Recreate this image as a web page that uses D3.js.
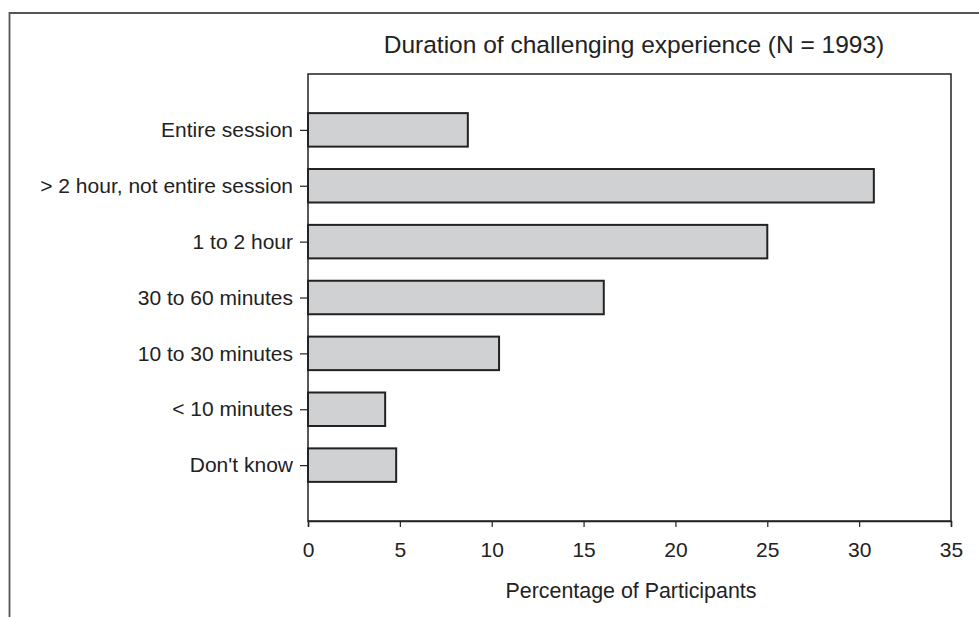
<!DOCTYPE html>
<html><head><meta charset="utf-8">
<script src="https://cdn.jsdelivr.net/npm/d3@7"></script>
<style>
html,body{margin:0;padding:0;background:#fff;}
svg{display:block;font-family:"Liberation Sans",Arial,sans-serif;}
</style></head>
<body>
<svg id="c" width="979" height="617"></svg>
<script>
const categories = ["Entire session", "> 2 hour, not entire session", "1 to 2 hour", "30 to 60 minutes", "10 to 30 minutes", "< 10 minutes", "Don't know"];
const values = [8.7, 30.8, 25.0, 16.1, 10.4, 4.2, 4.8];
const xTicks = [0, 5, 10, 15, 20, 25, 30, 35];
const title = "Duration of challenging experience (N = 1993)";
const xLabel = "Percentage of Participants";

const svg = d3.select("#c");
const m = {left: 308, top: 74, right: 951, bottom: 521};
const x = d3.scaleLinear().domain([0, 35]).range([m.left, m.right]);
const y = d3.scaleLinear().domain([0, categories.length + 1]).range([m.top, m.bottom]);
const barH = 33.5;

// outer frame (left + top)
svg.append("path").attr("d", `M9.5,617 V13 H979`).attr("fill", "none")
  .attr("stroke", "#555").attr("stroke-width", 1.8);

// plot box
svg.append("rect").attr("x", m.left).attr("y", m.top)
  .attr("width", m.right - m.left).attr("height", m.bottom - m.top)
  .attr("fill", "none").attr("stroke", "#222").attr("stroke-width", 1.5);

// bars
svg.selectAll("rect.bar").data(categories).enter().append("rect")
  .attr("class", "bar")
  .attr("x", x(0))
  .attr("y", (d, i) => y(i + 1) - barH / 2)
  .attr("width", (d, i) => x(values[i]) - x(0))
  .attr("height", barH)
  .attr("fill", "#d0d1d3").attr("stroke", "#222").attr("stroke-width", 2);

// x axis
const xAxis = d3.axisBottom(x).tickValues(xTicks).tickSize(6).tickPadding(15).tickFormat(d3.format("d"));
const gx = svg.append("g").attr("transform", `translate(0,${m.bottom})`).call(xAxis);
gx.select(".domain").attr("stroke", "#222").attr("stroke-width", 1.5);
gx.selectAll(".tick line").attr("stroke", "#222").attr("stroke-width", 1.2);
gx.selectAll(".tick text").attr("font-size", 21).attr("fill", "#222")
  .attr("font-family", "Liberation Sans, Arial, sans-serif");

// y axis
const yAxis = d3.axisLeft(y).tickValues(categories.map((d, i) => i + 1))
  .tickFormat((d) => categories[d - 1]).tickSize(8).tickPadding(7);
const gy = svg.append("g").attr("transform", `translate(${m.left},0)`).call(yAxis);
gy.select(".domain").remove();
gy.selectAll(".tick line").attr("stroke", "#222").attr("stroke-width", 1.2);
gy.selectAll(".tick text").attr("font-size", 21).attr("fill", "#222")
  .attr("font-family", "Liberation Sans, Arial, sans-serif");

// title
svg.append("text").attr("x", 634).attr("y", 53).attr("text-anchor", "middle")
  .attr("font-size", 24.5).attr("fill", "#222").text(title);

// x label
svg.append("text").attr("x", 631).attr("y", 598).attr("text-anchor", "middle")
  .attr("font-size", 21.4).attr("fill", "#222").text(xLabel);
</script>
</body></html>
